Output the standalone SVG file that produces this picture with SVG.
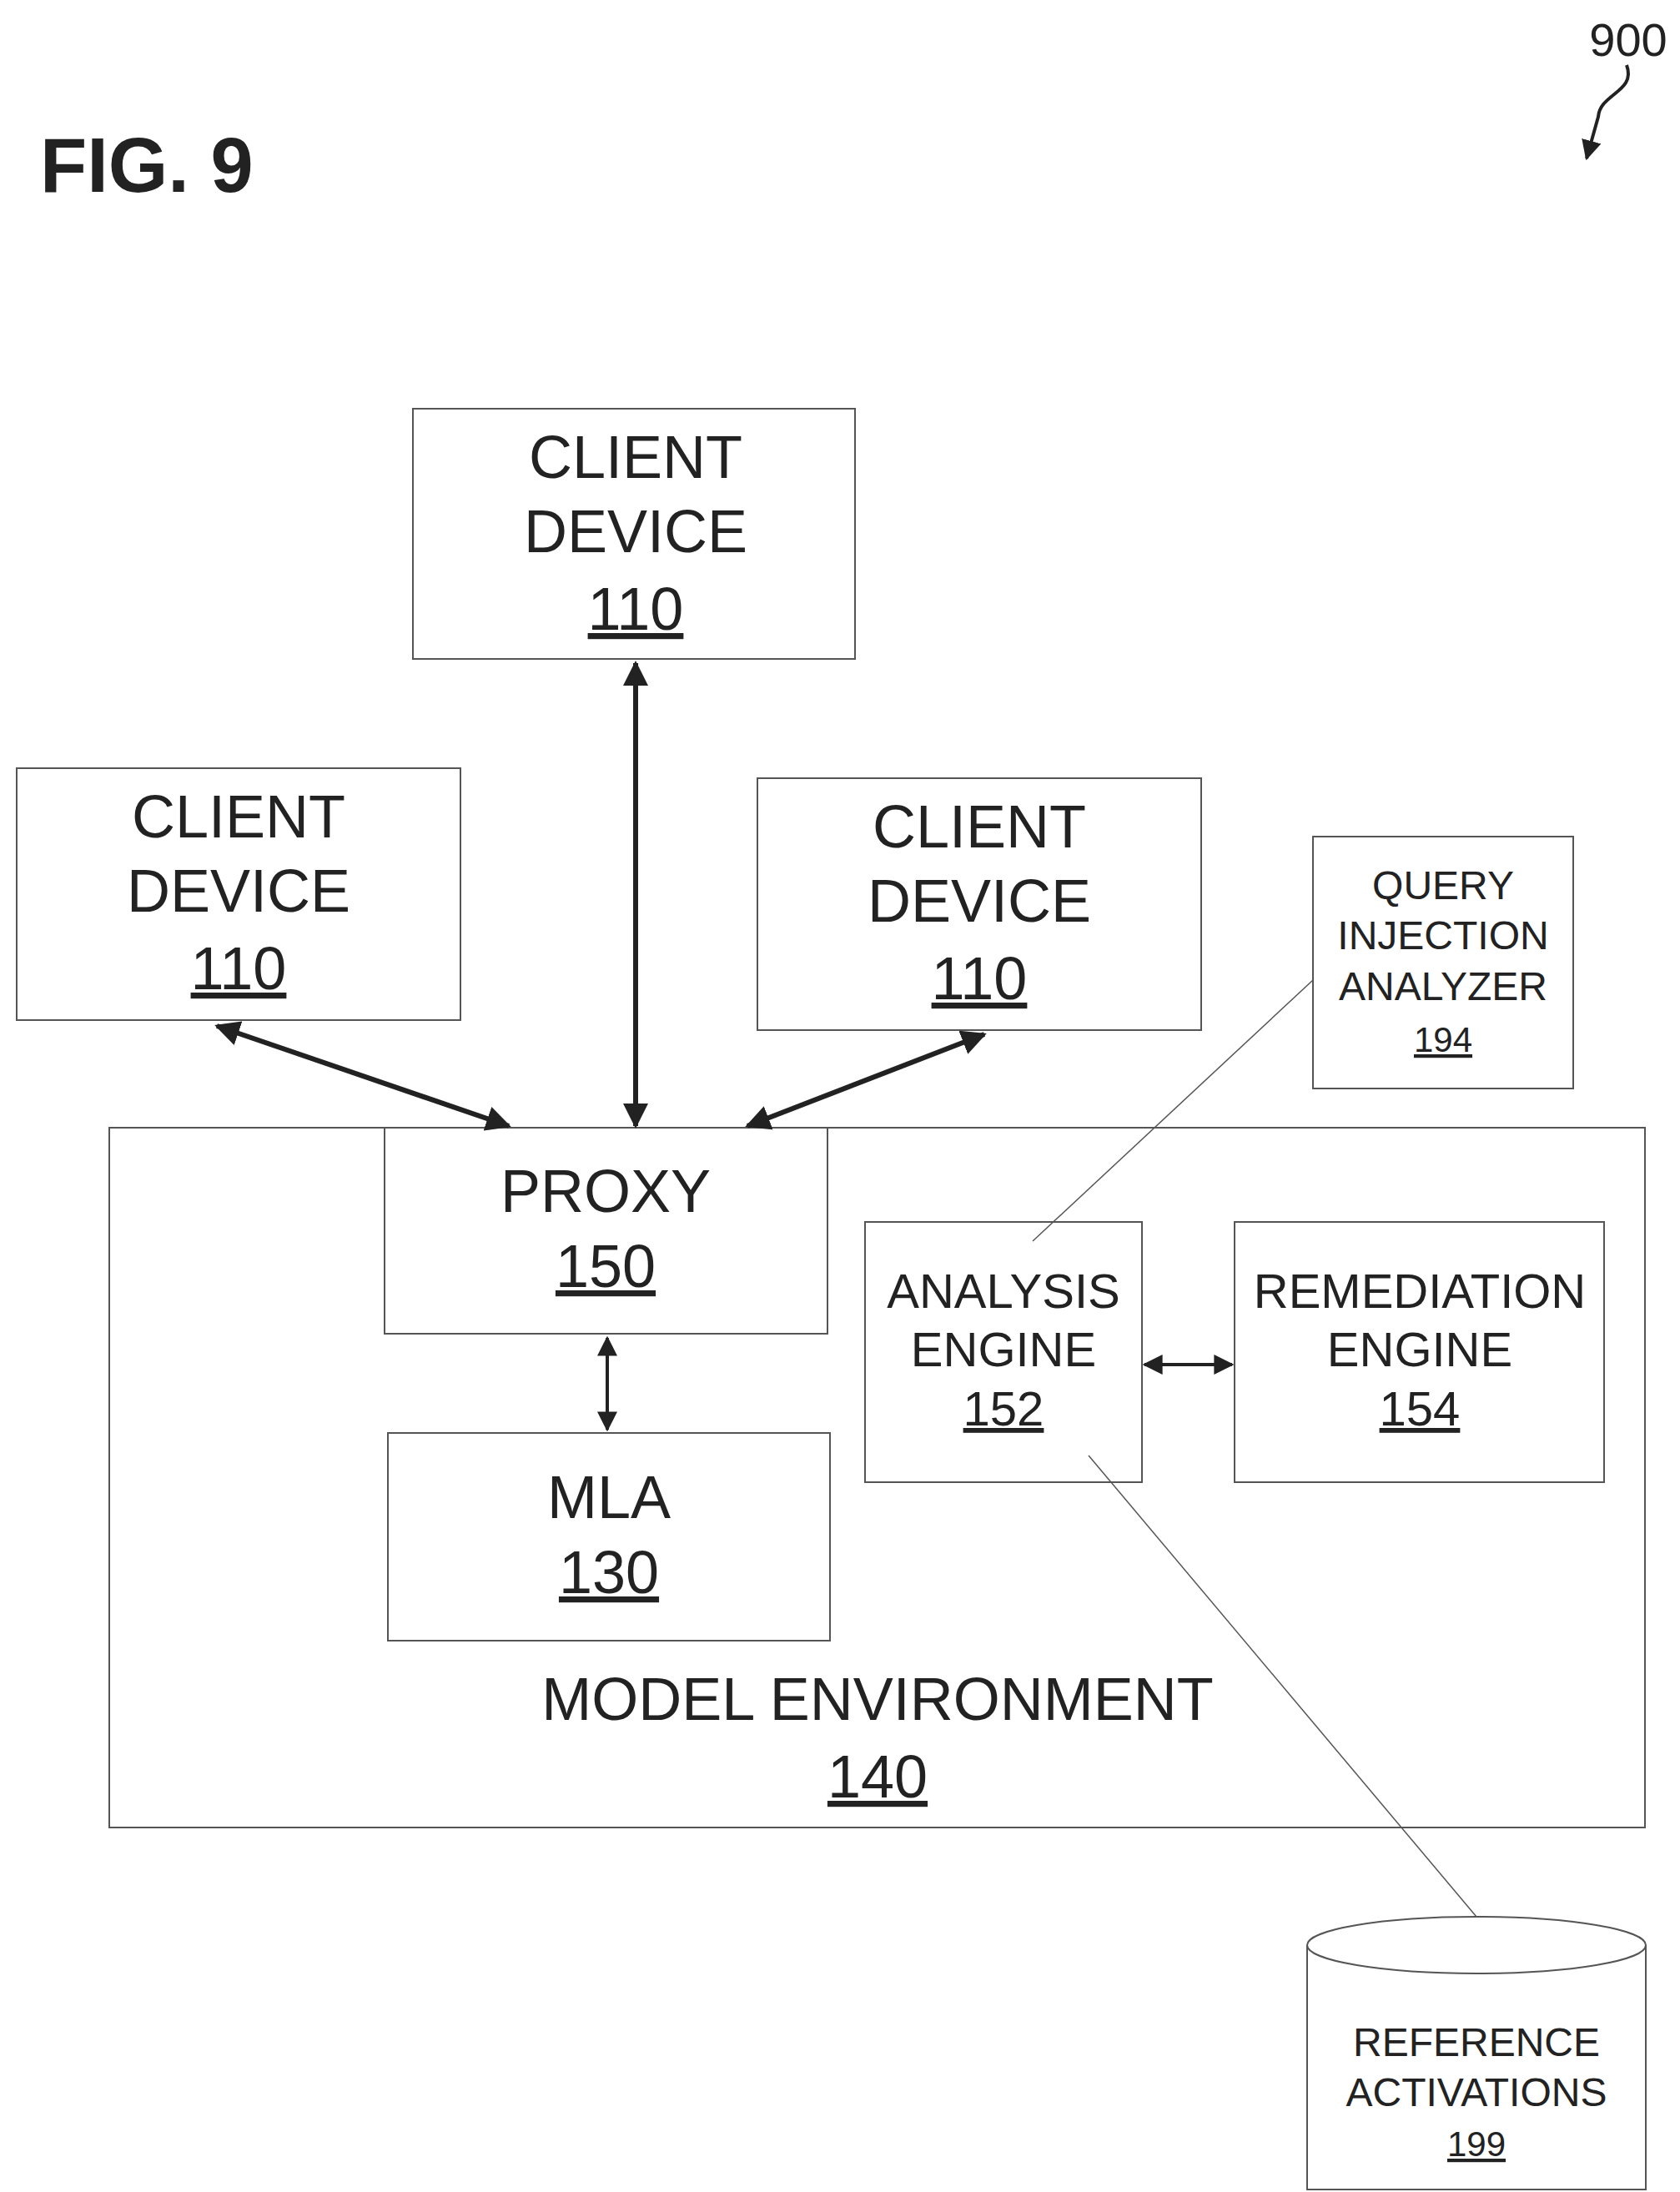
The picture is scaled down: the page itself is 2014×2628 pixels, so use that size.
<svg xmlns="http://www.w3.org/2000/svg" width="2014" height="2628" viewBox="0 0 2014 2628">
<style>
.b{fill:#fff;stroke:#555;stroke-width:2}
text{font-family:"Liberation Sans",Arial,sans-serif;fill:#222;text-anchor:middle}
.l{font-size:72px}.m{font-size:58px}.s{font-size:48px}
.c{stroke:#222;stroke-width:6;fill:none}
.t{stroke:#555;stroke-width:1.5;fill:none}
</style>
<defs><marker id="a" viewBox="0 0 10 10" refX="9" refY="5" markerWidth="5" markerHeight="5" orient="auto-start-reverse"><path d="M0,0L10,5L0,10z" fill="#222"/></marker>
<marker id="a2" viewBox="0 0 10 10" refX="9" refY="5" markerWidth="6" markerHeight="6" orient="auto-start-reverse"><path d="M0,0L10,5L0,10z" fill="#222"/></marker></defs>
<rect width="2014" height="2628" fill="#fff"/>
<text x="48" y="230" style="font-size:92px;font-weight:bold;text-anchor:start">FIG. 9</text>
<text x="1952" y="67" style="font-size:56px;font-family:'Liberation Sans Narrow','Liberation Sans',sans-serif">900</text>
<path d="M1950,78 C1962,110 1918,112 1916,140 L1902,190" stroke="#222" stroke-width="4" fill="none" marker-end="url(#a2)"/>
<g id="env"><rect class="b" x="131" y="1352" width="1841" height="839"/><text class="l" x="1052" y="2062">MODEL ENVIRONMENT</text><text class="l" x="1052" y="2155" text-decoration="underline">140</text></g>
<g id="c1"><rect class="b" x="495" y="490" width="530" height="300"/><text class="l" x="762" y="573">CLIENT</text><text class="l" x="762" y="662">DEVICE</text><text class="l" x="762" y="755" text-decoration="underline">110</text></g>
<g id="c2"><rect class="b" x="20" y="921" width="532" height="302"/><text class="l" x="286" y="1004">CLIENT</text><text class="l" x="286" y="1093">DEVICE</text><text class="l" x="286" y="1186" text-decoration="underline">110</text></g>
<g id="c3"><rect class="b" x="908" y="933" width="532" height="302"/><text class="l" x="1174" y="1016">CLIENT</text><text class="l" x="1174" y="1105">DEVICE</text><text class="l" x="1174" y="1198" text-decoration="underline">110</text></g>
<g id="q"><rect class="b" x="1574" y="1003" width="312" height="302"/><text class="s" x="1730" y="1078">QUERY</text><text class="s" x="1730" y="1138">INJECTION</text><text class="s" x="1730" y="1199">ANALYZER</text><text class="s" x="1730" y="1261" style="font-size:42px" text-decoration="underline">194</text></g>
<g id="p"><rect class="b" x="461" y="1352" width="531" height="247"/><text class="l" x="726" y="1453">PROXY</text><text class="l" x="726" y="1543" text-decoration="underline">150</text></g>
<g id="mla"><rect class="b" x="465" y="1718" width="530" height="249"/><text class="l" x="730" y="1820">MLA</text><text class="l" x="730" y="1910" text-decoration="underline">130</text></g>
<g id="ae"><rect class="b" x="1037" y="1465" width="332" height="312"/><text class="m" x="1203" y="1568">ANALYSIS</text><text class="m" x="1203" y="1638">ENGINE</text><text class="m" x="1203" y="1709" text-decoration="underline">152</text></g>
<g id="re"><rect class="b" x="1480" y="1465" width="443" height="312"/><text class="m" x="1702" y="1568">REMEDIATION</text><text class="m" x="1702" y="1638">ENGINE</text><text class="m" x="1702" y="1709" text-decoration="underline">154</text></g>
<g id="db"><path class="b" d="M1567,2332 V2625 H1973 V2332"/><ellipse class="b" cx="1770" cy="2332" rx="203" ry="34"/><text class="s" x="1770" y="2465">REFERENCE</text><text class="s" x="1770" y="2525">ACTIVATIONS</text><text class="s" x="1770" y="2585" style="font-size:42px" text-decoration="underline">199</text></g>
<g id="connectors">
<line class="c" x1="762" y1="795" x2="762" y2="1350" marker-start="url(#a)" marker-end="url(#a)"/>
<line class="c" x1="260" y1="1230" x2="610" y2="1350" marker-start="url(#a)" marker-end="url(#a)"/>
<line class="c" x1="1180" y1="1240" x2="896" y2="1350" marker-start="url(#a)" marker-end="url(#a)"/>
<line class="c" style="stroke-width:4" x1="728" y1="1604" x2="728" y2="1714" marker-start="url(#a2)" marker-end="url(#a2)"/>
<line class="c" style="stroke-width:4" x1="1372" y1="1636" x2="1477" y2="1636" marker-start="url(#a2)" marker-end="url(#a2)"/>
<line class="t" x1="1574" y1="1175" x2="1238" y2="1488"/>
<line class="t" x1="1305" y1="1745" x2="1770" y2="2298"/>
</g>
</svg>
